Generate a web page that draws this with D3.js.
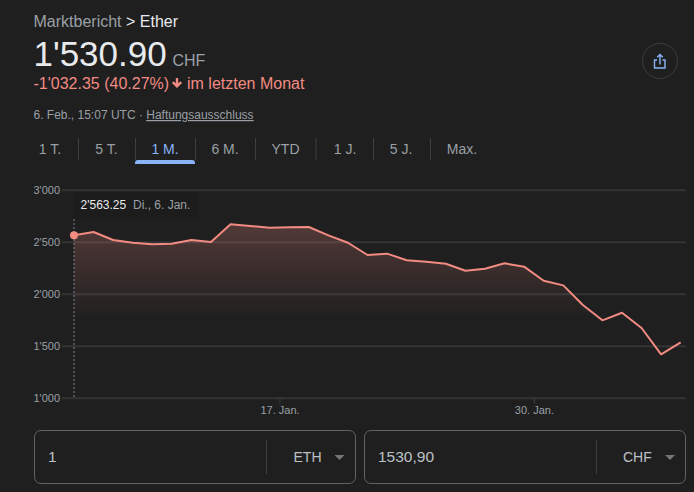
<!DOCTYPE html>
<html>
<head>
<meta charset="utf-8">
<script src="https://cdn.jsdelivr.net/npm/d3@7"></script>
<style>
  html, body { margin: 0; padding: 0; background: #1f1f1f; overflow: hidden; }
  svg { display: block; font-family: "Liberation Sans", Arial, sans-serif; }
</style>
</head>
<body>
<svg id="chart" width="694" height="492"></svg>
<script>
/* chart data */
const dates = [
  '2026-01-06', '2026-01-07', '2026-01-08', '2026-01-09', '2026-01-10', '2026-01-11', '2026-01-12', '2026-01-13',
  '2026-01-14', '2026-01-15', '2026-01-16', '2026-01-17', '2026-01-18', '2026-01-19', '2026-01-20', '2026-01-21',
  '2026-01-22', '2026-01-23', '2026-01-24', '2026-01-25', '2026-01-26', '2026-01-27', '2026-01-28', '2026-01-29',
  '2026-01-30', '2026-01-31', '2026-02-01', '2026-02-02', '2026-02-03', '2026-02-04', '2026-02-05', '2026-02-06',
];
const prices = [
  2563, 2593, 2516, 2490, 2475, 2481, 2516, 2497,
  2667, 2651, 2635, 2638, 2641, 2561, 2490, 2372,
  2385, 2321, 2308, 2288, 2221, 2240, 2292, 2260,
  2125, 2080, 1891, 1744, 1817, 1670, 1417, 1531,
];
const yTicks = [1000, 1500, 2000, 2500, 3000];
const xTicks = ['2026-01-17', '2026-01-30'];
const ranges = ['1 T.', '5 T.', '1 M.', '6 M.', 'YTD', '1 J.', '5 J.', 'Max.'];
const activeRange = '1 M.';

const svg = d3.select('#chart');

const parseDay = d3.utcParse('%Y-%m-%d');
// the daily points sit around midday, the ticks on midnight
const parsePoint = (s) => d3.utcHour.offset(parseDay(s), 12);
const series = dates.map((d, i) => ({ date: parsePoint(d), value: prices[i] }));

const plot = { left: 74, right: 680.7, top: 189.7, bottom: 397.7, gridLeft: 62, gridRight: 686 };

const x = d3.scaleUtc().domain(d3.extent(series, (d) => d.date)).range([plot.left, plot.right]);
const y = d3.scaleLinear().domain([1000, 3000]).range([plot.bottom, plot.top]);

const swiss = d3.formatLocale({ decimal: '.', thousands: "'", grouping: [3], currency: ['', ''] });

/* header */
function label(text, px, py, size, fill, anchor) {
  return svg.append('text')
    .attr('x', px)
    .attr('y', py)
    .attr('font-size', size)
    .attr('fill', fill)
    .attr('text-anchor', anchor || 'start')
    .text(text);
}

const crumb = label('Marktbericht', 33.5, 27, 16, '#9aa0a6');
crumb.append('tspan').attr('fill', '#e8eaed').text(' > Ether');

label("1'530.90", 33.5, 66, 35, '#e8eaed');
label('CHF', 172.5, 66, 16, '#9aa0a6');

label("-1'032.35 (40.27%)", 33.5, 89, 16, '#f28b82');
svg.append('path')
  .attr('d', 'M177 78v7M172.8 82.2l4.2 4.2 4.2-4.2')
  .attr('fill', 'none')
  .attr('stroke', '#f28b82')
  .attr('stroke-width', 2.4);
label('im letzten Monat', 187, 89, 16, '#f28b82');

const stamp = label('6. Feb., 15:07 UTC · ', 33.5, 119, 12, '#9aa0a6');
stamp.append('tspan').attr('text-decoration', 'underline').text('Haftungsausschluss');

/* share button */
svg.append('circle')
  .attr('cx', 660)
  .attr('cy', 61)
  .attr('r', 17.5)
  .attr('fill', 'none')
  .attr('stroke', '#3c4043')
  .attr('stroke-width', 1);
svg.append('path')
  .attr('d', 'M657 60h-2.5v8h10.5v-8h-2.5M660 64.5v-9.5M657.2 57.2l2.8-2.8 2.8 2.8')
  .attr('fill', 'none')
  .attr('stroke', '#8ab4f8')
  .attr('stroke-width', 1.4);

/* range tabs */
const tabCentres = [50, 106.5, 165, 225, 285.5, 345, 401, 462];
const tabSeparators = [78.5, 135.5, 195.5, 255.5, 316, 373.5, 430.5];

svg.selectAll('.tab')
  .data(ranges)
  .join('text')
  .attr('class', 'tab')
  .attr('x', (d, i) => tabCentres[i])
  .attr('y', 154)
  .attr('text-anchor', 'middle')
  .attr('font-size', 14)
  .attr('fill', (d) => (d === activeRange ? '#8ab4f8' : '#9aa0a6'))
  .text((d) => d);

svg.selectAll('.tab-sep')
  .data(tabSeparators)
  .join('line')
  .attr('class', 'tab-sep')
  .attr('x1', (d) => d)
  .attr('x2', (d) => d)
  .attr('y1', 138)
  .attr('y2', 160)
  .attr('stroke', '#3c4043');

svg.append('path')
  .attr('d', 'M135 164v-1a3 3 0 0 1 3-3h54a3 3 0 0 1 3 3v1z')
  .attr('fill', '#8ab4f8');

/* grid and y axis */
const yAxis = d3.axisLeft(y)
  .tickValues(yTicks)
  .tickSize(plot.gridRight - plot.gridLeft)
  .tickPadding(2)
  .tickFormat(swiss.format(','));

const yAxisG = svg.append('g')
  .attr('transform', `translate(${plot.gridRight},0)`)
  .call(yAxis);
yAxisG.select('.domain').remove();
yAxisG.selectAll('line').attr('stroke', '#333436').attr('stroke-width', 2);
yAxisG.selectAll('text')
  .attr('fill', '#9aa0a6')
  .attr('font-size', 11)
  .attr('font-family', '"Liberation Sans", Arial, sans-serif');

/* x axis */
const xAxis = d3.axisBottom(x)
  .tickValues(xTicks.map(parseDay))
  .tickSize(6)
  .tickPadding(3)
  .tickFormat((d) => `${d.getUTCDate()}. Jan.`);

const xAxisG = svg.append('g')
  .attr('transform', `translate(0,${plot.bottom})`)
  .call(xAxis);
xAxisG.select('.domain').remove();
xAxisG.selectAll('line').attr('stroke', '#3c4043');
xAxisG.selectAll('text')
  .attr('fill', '#9aa0a6')
  .attr('font-size', 11)
  .attr('font-family', '"Liberation Sans", Arial, sans-serif');

/* area under the line */
const defs = svg.append('defs');
const fade = defs.append('linearGradient')
  .attr('id', 'fade')
  .attr('gradientUnits', 'userSpaceOnUse')
  .attr('x1', 0)
  .attr('x2', 0)
  .attr('y1', y(2667))
  .attr('y2', y(1750));
fade.append('stop').attr('offset', 0).attr('stop-color', '#f28b82').attr('stop-opacity', 0.24);
fade.append('stop').attr('offset', 1).attr('stop-color', '#f28b82').attr('stop-opacity', 0);

const area = d3.area()
  .x((d) => x(d.date))
  .y0(y(1750))
  .y1((d) => Math.min(y(d.value), y(1750)));

svg.append('path')
  .datum(series)
  .attr('d', area)
  .attr('fill', 'url(#fade)');

const line = d3.line()
  .x((d) => x(d.date))
  .y((d) => y(d.value));

svg.append('path')
  .datum(series)
  .attr('d', line)
  .attr('fill', 'none')
  .attr('stroke', '#f28b82')
  .attr('stroke-width', 2)
  .attr('stroke-linejoin', 'round');

/* hover marker and tooltip */
const first = series[0];
svg.append('line')
  .attr('x1', x(first.date))
  .attr('x2', x(first.date))
  .attr('y1', 219)
  .attr('y2', plot.bottom)
  .attr('stroke', '#9aa0a6')
  .attr('stroke-opacity', 0.8)
  .attr('stroke-width', 1)
  .attr('stroke-dasharray', '2 2');

svg.append('circle')
  .attr('cx', x(first.date))
  .attr('cy', y(first.value))
  .attr('r', 4)
  .attr('fill', '#f28b82');

svg.append('rect')
  .attr('x', 73)
  .attr('y', 192)
  .attr('width', 125)
  .attr('height', 27)
  .attr('fill', '#1c1c1c');

label(swiss.format(',.2f')(2563.25), 80.5, 209, 12, '#e8eaed');
label('Di., 6. Jan.', 133, 209, 12, '#9aa0a6');

/* currency converter */
function converter(left, width, amount, unit, dividerX, unitX, caretX) {
  svg.append('rect')
    .attr('x', left + 0.5)
    .attr('y', 430.5)
    .attr('width', width)
    .attr('height', 53)
    .attr('rx', 6.5)
    .attr('fill', 'none')
    .attr('stroke', '#5f6368');
  svg.append('line')
    .attr('x1', dividerX)
    .attr('x2', dividerX)
    .attr('y1', 440)
    .attr('y2', 474)
    .attr('stroke', '#3c4043');
  label(amount, left + 14, 462, 15.5, '#bdc1c6');
  label(unit, unitX, 462, 14, '#bdc1c6');
  svg.append('path')
    .attr('d', `M${caretX - 5} 455h10l-5 5z`)
    .attr('fill', '#757779');
}
converter(34, 321, '1', 'ETH', 266.5, 293.5, 339.5);
converter(364, 321, '1530,90', 'CHF', 596.5, 623, 670);
</script>
</body>
</html>
